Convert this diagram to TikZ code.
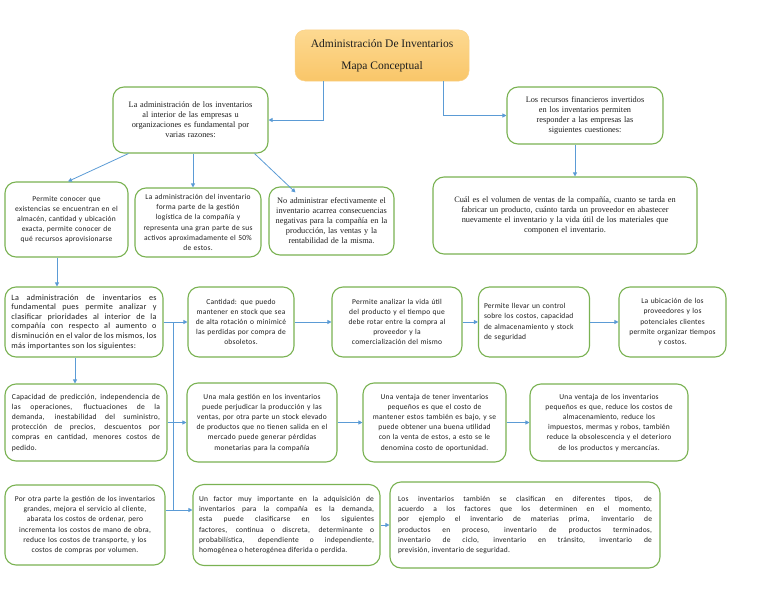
\documentclass[tikz,border=0pt]{standalone}
\usepackage{fontspec}
\setmainfont{Liberation Serif}
\newfontfamily\calfnt[LetterSpace=3]{Carlito}
\usetikzlibrary{arrows.meta,calc}
\definecolor{gbord}{RGB}{122,178,82}
\definecolor{abl}{RGB}{91,155,213}
\definecolor{txt}{RGB}{30,30,30}
\definecolor{ortop}{RGB}{253,217,145}
\definecolor{orbot}{RGB}{249,198,105}
\begin{document}
\begin{tikzpicture}[x=1pt,y=-1pt,
  gbox/.style={draw=gbord, line width=1.1pt, rounded corners=11pt, fill=white, inner sep=2pt, text=txt},
  serif/.style={font=\fontsize{8.3}{10}\selectfont, align=center},
  sans/.style={font=\calfnt\fontsize{7.5}{10.2}\selectfont, align=center},
  sansj/.style={font={\calfnt\fontsize{7.5}{10.2}\selectfont\hyphenpenalty10000\relax}, align=justify},
  conn/.style={draw=abl, line width=0.8pt},
  arr/.style={conn, -{Triangle[length=4pt,width=4pt]}}]
\useasboundingbox (0,0) rectangle (768,594);

% title
\node[rounded corners=10pt, top color=ortop, bottom color=orbot, draw=orbot!80!white, line width=0.5pt,
  minimum width=174pt, minimum height=51pt, align=center, text=txt,
  font=\fontsize{11.5}{22}\selectfont] (title) at (382,55.5)
  {Administración De Inventarios\\Mapa Conceptual};

% top boxes
\node[gbox, serif, minimum width=155pt, minimum height=66pt, text width=145pt] (TL) at (190.5,120)
  {La administración de los inventarios\\al interior de las empresas u\\organizaciones es fundamental por\\varias razones:};
\node[gbox, serif, minimum width=156pt, minimum height=57pt, text width=146pt] (TR) at (585,115.5)
  {Los recursos financieros invertidos\\en los inventarios permiten\\responder a las empresas las\\siguientes cuestiones:};

% row 2
\node[gbox, sans, minimum width=123pt, minimum height=75pt, text width=119pt] (A2) at (66.5,219.5)
  {Permite conocer que\\existencias se encuentran en el\\almacén, cantidad y ubicación\\exacta, permite conocer de\\qué recursos aprovisionarse};
\node[gbox, sans, minimum width=126pt, minimum height=69pt, text width=122pt] (B2) at (198,222.5)
  {La administración del inventario\\forma parte de la gestión\\logística de la compañía y\\representa una gran parte de sus\\activos aproximadamente el 50\%\\de estos.};
\node[gbox, serif, minimum width=125pt, minimum height=68pt, text width=117pt] (C2) at (331.5,221)
  {No administrar efectivamente el\\inventario acarrea consecuencias\\negativas para la compañía en la\\producción, las ventas y la\\rentabilidad de la misma.};
\node[gbox, serif, minimum width=264pt, minimum height=77pt, text width=250pt] (D2) at (565,215.5)
  {Cuál es el volumen de ventas de la compañía, cuanto se tarda en\\fabricar un producto, cuánto tarda un proveedor en abastecer\\nuevamente el inventario y la vida útil de los materiales que\\componen el inventario.};

% row 3
\node[gbox, sansj, font={\calfnt\fontsize{8.1}{9.6}\selectfont\hyphenpenalty10000\relax}, minimum width=158pt, minimum height=70pt, text width=145pt] (L3) at (84,322)
  {La administración de inventarios es\linebreak fundamental pues permite analizar y\linebreak clasificar prioridades al interior de la\linebreak compañía con respecto al aumento o\linebreak disminución en el valor de los mismos, los\linebreak más importantes son los siguientes:};
\node[gbox, sans, minimum width=106pt, minimum height=70pt, text width=102pt] (B3) at (241,322)
  {Cantidad: que puedo\\mantener en stock que sea\\de alta rotación o minimicé\\las perdidas por compra de\\obsoletos.};
\node[gbox, sans, minimum width=130pt, minimum height=70pt, text width=124pt] (C3) at (397,322)
  {Permite analizar la vida útil\\del producto y el tiempo que\\debe rotar entre la compra al\\proveedor y la\\comercialización del mismo};
\node[gbox, sans, align=left, minimum width=111pt, minimum height=70pt, text width=100pt] (D3) at (534,322)
  {Permite llevar un control\\sobre los costos, capacidad\\de almacenamiento y stock\\de seguridad\\[8pt]};
\node[gbox, sans, minimum width=107pt, minimum height=70pt, text width=103pt] (E3) at (672.5,322)
  {La ubicación de los\\proveedores y los\\potenciales clientes\\permite organizar tiempos\\y costos.};

% row 4
\node[gbox, sansj, font={\calfnt\fontsize{7.6}{10.2}\selectfont\hyphenpenalty10000\relax}, minimum width=162pt, minimum height=77pt, text width=148pt] (L4) at (86,422.5)
  {Capacidad de predicción, independencia de\linebreak las operaciones, fluctuaciones de la\linebreak demanda, inestabilidad del suministro,\linebreak protección de precios, descuentos por\linebreak compras en cantidad, menores costos de\linebreak pedido.};
\node[gbox, sans, minimum width=150pt, minimum height=79pt, text width=146pt] (B4) at (262,422.5)
  {Una mala gestión en los inventarios\\puede perjudicar la producción y las\\ventas, por otra parte un stock elevado\\de productos que no tienen salida en el\\mercado puede generar pérdidas\\monetarias para la compañía};
\node[gbox, sans, minimum width=143pt, minimum height=79pt, text width=139pt] (C4) at (434.5,422.5)
  {Una ventaja de tener inventarios\\pequeños es que el costo de\\mantener estos también es bajo, y se\\puede obtener una buena utilidad\\con la venta de estos, a esto se le\\denomina costo de oportunidad.};
\node[gbox, sans, minimum width=158pt, minimum height=77pt, text width=154pt] (D4) at (609,422.5)
  {Una ventaja de los inventarios\\pequeños es que, reduce los costos de\\almacenamiento, reduce los\\impuestos, mermas y robos, también\\reduce la obsolescencia y el deterioro\\de los productos y mercancías.};

% row 5
\node[gbox, sans, minimum width=160pt, minimum height=80pt, text width=156pt] (L5) at (85,525)
  {Por otra parte la gestión de los inventarios\\grandes, mejora el servicio al cliente,\\abarata los costos de ordenar, pero\\incrementa los costos de mano de obra,\\reduce los costos de transporte, y los\\costos de compras por volumen.};
\node[gbox, sansj, minimum width=187pt, minimum height=81pt, text width=175pt] (B5) at (286.5,525)
  {Un factor muy importante en la adquisición de\linebreak inventarios para la compañía es la demanda,\linebreak esta puede clasificarse en los siguientes\linebreak factores, continua o discreta, determinante o\linebreak probabilística, dependiente o independiente,\linebreak homogénea o heterogénea diferida o perdida.};
\node[gbox, sansj, minimum width=270pt, minimum height=86pt, text width=254pt] (C5) at (525,525)
  {Los inventarios también se clasifican en diferentes tipos, de\linebreak acuerdo a los factores que los determinen en el momento,\linebreak por ejemplo el inventario de materias prima, inventario de\linebreak productos en proceso, inventario de productos terminados,\linebreak inventario de ciclo, inventario en tránsito, inventario de\linebreak previsión, inventario de seguridad.};

% connectors
\draw[arr] ([xshift=-59pt]title.south) |- (TL.east);
\draw[arr] ([xshift=61pt]title.south) |- (TR.west);
\draw[arr] ([xshift=-62pt]TL.south) -- ([xshift=1.5pt]A2.north);
\draw[arr] ([xshift=2.5pt]TL.south) -- ([xshift=2.5pt]TL.south |- B2.north);
\draw[arr] ([xshift=64pt]TL.south) -- ([xshift=-36pt,yshift=-6pt]C2.north);
\draw[arr] ([xshift=-10pt]TR.south) -- ([xshift=-10pt]TR.south |- D2.north);
\draw[arr] ([xshift=-9.5pt]A2.south) -- ([xshift=-9.5pt]A2.south |- L3.north);
\draw[arr] ([xshift=-9pt]L3.south) -- ([xshift=-9pt]L3.south |- L4.north);

\draw[arr] (L3.east) -- (B3.west);
\draw[arr] (B3.east) -- (C3.west);
\draw[arr] (C3.east) -- (D3.west);
\draw[arr] (D3.east) -- (E3.west);

\coordinate (t0) at (173,322);
\coordinate (t5) at (173,510);
\draw[conn] (t0) -- (t5);
\draw[arr] (t0 |- B4.west) -- (B4.west);
\draw[arr] (t5) -- (t5 -| B5.west);
\draw[conn] (L4.east) -- (L4.east -| t0);
\draw[conn] (t5 -| L5.east) -- (t5);

\draw[arr] (B4.east) -- (C4.west);
\draw[arr] (C4.east) -- (D4.west);
\draw[arr] (B5.east) -- (C5.west);
\end{tikzpicture}
\end{document}
